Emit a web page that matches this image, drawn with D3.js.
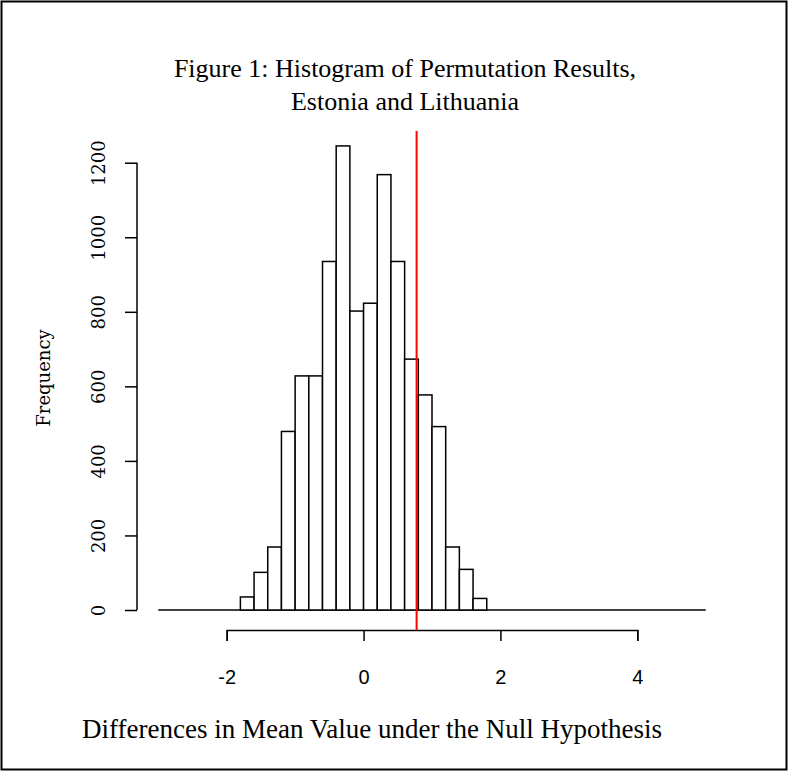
<!DOCTYPE html>
<html>
<head>
<meta charset="utf-8">
<script src="https://cdn.jsdelivr.net/npm/d3@7"></script>
<style>
  body { margin: 0; background: #fff; }
  svg { display: block; }
</style>
</head>
<body>
<svg id="chart" width="797" height="772"></svg>
<script>
// histogram of 10000 permutation results, bin width 0.2
const binLower = [-1.8, -1.6, -1.4, -1.2, -1.0, -0.8, -0.6, -0.4, -0.2,
  0.0, 0.2, 0.4, 0.6, 0.8, 1.0, 1.2, 1.4, 1.6];
const counts = [35, 101, 169, 479, 628, 628, 935, 1245, 802,
  823, 1168, 935, 673, 577, 492, 169, 109, 31];
const BIN_WIDTH = 0.2;
const histRange = [-3, 5]; // empty bins still drawn as a flat line
const observed = 0.775;

const xTicks = [-2, 0, 2, 4];
const yTicks = [0, 200, 400, 600, 800, 1000, 1200];

const titleLines = ["Figure 1: Histogram of Permutation Results,", "Estonia and Lithuania"];
const xLabel = "Differences in Mean Value under the Null Hypothesis";
const yLabel = "Frequency";

const svg = d3.select("#chart");

const x = d3.scaleLinear().domain([-2, 4]).range([226.7, 637.3]);
const y = d3.scaleLinear().domain([0, 1200]).range([610, 162.7]);

// outer frame
svg.append("rect")
  .attr("x", 1.5).attr("y", 1.5)
  .attr("width", 785).attr("height", 768)
  .attr("fill", "none")
  .attr("stroke", "#000")
  .attr("stroke-width", 2);

// title
svg.append("text")
  .attr("text-anchor", "middle")
  .attr("font-family", "'Liberation Serif', 'Times New Roman', serif")
  .attr("font-size", 26)
  .selectAll("tspan")
  .data(titleLines)
  .join("tspan")
  .attr("x", 405)
  .attr("y", (d, i) => 77 + i * 33)
  .text((d) => d);

// flat line of empty bins
svg.append("line")
  .attr("x1", x(histRange[0])).attr("x2", x(histRange[1]))
  .attr("y1", y(0)).attr("y2", y(0))
  .attr("stroke", "#000")
  .attr("stroke-width", 1.5);

// bars
svg.append("g")
  .selectAll("rect")
  .data(binLower.map((b, i) => ({ x0: b, x1: b + BIN_WIDTH, n: counts[i] })))
  .join("rect")
  .attr("x", (d) => x(d.x0))
  .attr("y", (d) => y(d.n))
  .attr("width", (d) => x(d.x1) - x(d.x0))
  .attr("height", (d) => y(0) - y(d.n))
  .attr("fill", "#fff")
  .attr("stroke", "#000")
  .attr("stroke-width", 1.5);

// x axis, set below the bars like R does
const xAxis = svg.append("g")
  .attr("transform", "translate(0,630)")
  .call(d3.axisBottom(x).tickValues(xTicks).tickSize(11).tickSizeOuter(11));
xAxis.selectAll("path, line").attr("stroke", "#000").attr("stroke-width", 1.5);
xAxis.selectAll("text")
  .attr("font-family", "'Liberation Sans', Arial, sans-serif")
  .attr("font-size", 20)
  .attr("fill", "#000")
  .attr("y", 47)
  .attr("dy", "0.35em")
  .text((d) => (d < 0 ? "-" + Math.abs(d) : d));

// y axis with labels parallel to the axis
const yAxis = svg.append("g")
  .attr("transform", "translate(137,0)")
  .call(d3.axisLeft(y).tickValues(yTicks).tickSize(12).tickSizeOuter(0).tickFormat(d3.format("d")));
yAxis.select(".domain").attr("d", `M0,${y(0)}V${y(1200)}`);
yAxis.selectAll("path, line").attr("stroke", "#000").attr("stroke-width", 1.5);
yAxis.selectAll("text")
  .attr("font-family", "'DejaVu Serif', serif")
  .attr("font-size", 18)
  .attr("fill", "#000")
  .attr("text-anchor", "middle")
  .attr("transform", "rotate(-90)")
  .attr("x", 0)
  .attr("y", -38)
  .attr("dy", "0.35em");

// observed difference
svg.append("line")
  .attr("x1", x(observed)).attr("x2", x(observed))
  .attr("y1", 131).attr("y2", 630)
  .attr("stroke", "#ff0000")
  .attr("stroke-width", 2);

// axis titles
svg.append("text")
  .attr("transform", "translate(44,378) rotate(-90)")
  .attr("text-anchor", "middle")
  .attr("dy", "0.35em")
  .attr("font-family", "'DejaVu Serif', serif")
  .attr("font-size", 18)
  .text(yLabel);

svg.append("text")
  .attr("x", 82)
  .attr("y", 738)
  .attr("font-family", "'Liberation Serif', 'Times New Roman', serif")
  .attr("font-size", 27)
  .text(xLabel);
</script>
</body>
</html>
